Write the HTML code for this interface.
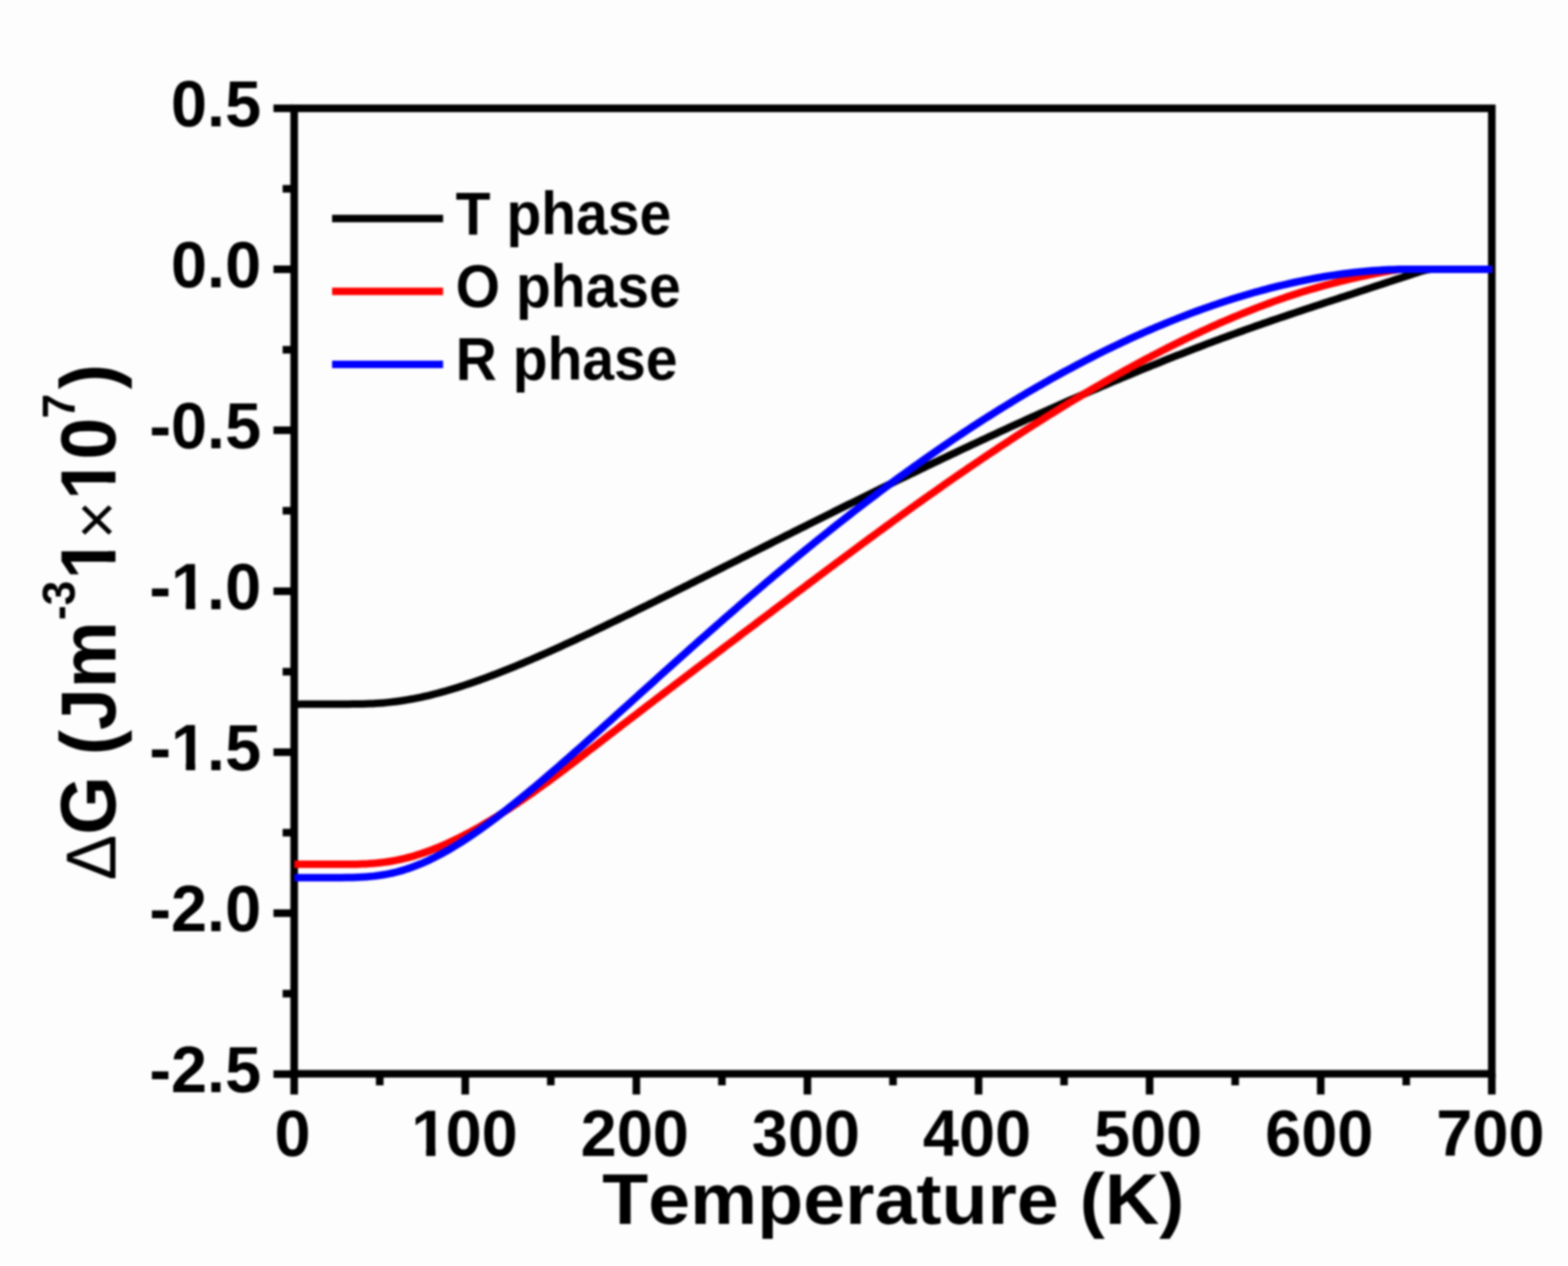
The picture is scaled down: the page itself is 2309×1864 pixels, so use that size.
<!DOCTYPE html>
<html><head><meta charset="utf-8"><title>Gibbs free energy difference vs temperature</title>
<style>
html,body{margin:0;padding:0;background:#fdfdfd;}
body{width:2309px;height:1864px;overflow:hidden;}
svg{display:block;filter:blur(1.8px);}
text{font-family:"Liberation Sans",Arial,sans-serif;font-weight:bold;fill:#000;font-kerning:none;}
</style></head><body>
<svg width="2309" height="1864" viewBox="0 0 2309 1864">
<rect x="0" y="0" width="2309" height="1864" fill="#fdfdfd"/>
<g stroke="#000" stroke-width="11.2" stroke-linecap="butt">
<line x1="433.2" y1="1581.0" x2="433.2" y2="1611.5"/><line x1="685.1" y1="1581.0" x2="685.1" y2="1611.5"/><line x1="937.1" y1="1581.0" x2="937.1" y2="1611.5"/><line x1="1189.0" y1="1581.0" x2="1189.0" y2="1611.5"/><line x1="1441.0" y1="1581.0" x2="1441.0" y2="1611.5"/><line x1="1692.9" y1="1581.0" x2="1692.9" y2="1611.5"/><line x1="1944.9" y1="1581.0" x2="1944.9" y2="1611.5"/><line x1="2196.8" y1="1581.0" x2="2196.8" y2="1611.5"/><line x1="559.2" y1="1581.0" x2="559.2" y2="1598.0"/><line x1="811.1" y1="1581.0" x2="811.1" y2="1598.0"/><line x1="1063.1" y1="1581.0" x2="1063.1" y2="1598.0"/><line x1="1315.0" y1="1581.0" x2="1315.0" y2="1598.0"/><line x1="1566.9" y1="1581.0" x2="1566.9" y2="1598.0"/><line x1="1818.9" y1="1581.0" x2="1818.9" y2="1598.0"/><line x1="2070.8" y1="1581.0" x2="2070.8" y2="1598.0"/><line x1="402.7" y1="159.5" x2="433.2" y2="159.5"/><line x1="402.7" y1="396.5" x2="433.2" y2="396.5"/><line x1="402.7" y1="633.5" x2="433.2" y2="633.5"/><line x1="402.7" y1="870.5" x2="433.2" y2="870.5"/><line x1="402.7" y1="1107.5" x2="433.2" y2="1107.5"/><line x1="402.7" y1="1344.5" x2="433.2" y2="1344.5"/><line x1="402.7" y1="1581.5" x2="433.2" y2="1581.5"/><line x1="416.2" y1="278.0" x2="433.2" y2="278.0"/><line x1="416.2" y1="515.0" x2="433.2" y2="515.0"/><line x1="416.2" y1="752.0" x2="433.2" y2="752.0"/><line x1="416.2" y1="989.0" x2="433.2" y2="989.0"/><line x1="416.2" y1="1226.0" x2="433.2" y2="1226.0"/><line x1="416.2" y1="1463.0" x2="433.2" y2="1463.0"/>
</g>
<rect x="433.2" y="159.5" width="1763.6000000000001" height="1421.5" fill="none" stroke="#000" stroke-width="11.2" stroke-linejoin="miter"/>
<g fill="none" stroke-linejoin="round" stroke-linecap="butt" stroke-width="11">
<path d="M433.5,1036.9 L438.5,1036.9 L443.6,1036.8 L448.6,1036.8 L453.7,1036.7 L458.7,1036.7 L463.7,1036.7 L468.8,1036.7 L473.8,1036.7 L478.9,1036.7 L483.9,1036.7 L488.9,1036.7 L494.0,1036.7 L499.0,1036.7 L504.1,1036.7 L509.1,1036.7 L514.1,1036.7 L519.2,1036.6 L524.2,1036.6 L529.3,1036.5 L534.3,1036.4 L539.3,1036.3 L544.4,1036.1 L549.4,1035.9 L554.5,1035.6 L559.5,1035.3 L564.5,1034.9 L569.6,1034.4 L574.6,1033.9 L579.7,1033.3 L584.7,1032.7 L589.7,1032.0 L594.8,1031.2 L599.8,1030.4 L604.9,1029.5 L609.9,1028.6 L614.9,1027.6 L620.0,1026.6 L625.0,1025.4 L630.1,1024.3 L635.1,1023.1 L640.1,1021.8 L645.2,1020.5 L650.2,1019.1 L655.3,1017.7 L660.3,1016.3 L665.3,1014.8 L670.4,1013.3 L675.4,1011.7 L680.5,1010.1 L685.5,1008.4 L690.5,1006.7 L695.6,1005.0 L700.6,1003.3 L705.7,1001.5 L710.7,999.7 L715.7,997.8 L720.8,995.9 L725.8,994.0 L730.9,992.1 L735.9,990.1 L740.9,988.1 L746.0,986.1 L751.0,984.1 L756.1,982.1 L761.1,980.0 L766.1,977.9 L771.2,975.8 L776.2,973.6 L781.3,971.5 L786.3,969.3 L791.3,967.1 L796.4,964.9 L801.4,962.7 L806.5,960.5 L811.5,958.2 L816.5,956.0 L821.6,953.7 L826.6,951.4 L831.7,949.1 L836.7,946.8 L841.7,944.5 L846.8,942.2 L851.8,939.8 L856.9,937.5 L861.9,935.1 L866.9,932.7 L872.0,930.4 L877.0,928.0 L882.1,925.6 L887.1,923.2 L892.1,920.8 L897.2,918.3 L902.2,915.9 L907.3,913.5 L912.3,911.0 L917.3,908.6 L922.4,906.1 L927.4,903.7 L932.5,901.2 L937.5,898.7 L942.5,896.3 L947.6,893.8 L952.6,891.3 L957.7,888.8 L962.7,886.3 L967.7,883.8 L972.8,881.3 L977.8,878.8 L982.9,876.3 L987.9,873.8 L992.9,871.3 L998.0,868.8 L1003.0,866.3 L1008.1,863.8 L1013.1,861.3 L1018.1,858.7 L1023.2,856.2 L1028.2,853.7 L1033.3,851.2 L1038.3,848.6 L1043.3,846.1 L1048.4,843.6 L1053.4,841.0 L1058.5,838.5 L1063.5,836.0 L1068.5,833.4 L1073.6,830.9 L1078.6,828.4 L1083.7,825.8 L1088.7,823.3 L1093.7,820.7 L1098.8,818.2 L1103.8,815.7 L1108.9,813.1 L1113.9,810.6 L1118.9,808.1 L1124.0,805.5 L1129.0,803.0 L1134.1,800.5 L1139.1,797.9 L1144.1,795.4 L1149.2,792.9 L1154.2,790.3 L1159.3,787.8 L1164.3,785.3 L1169.3,782.7 L1174.4,780.2 L1179.4,777.7 L1184.5,775.2 L1189.5,772.7 L1194.5,770.1 L1199.6,767.6 L1204.6,765.1 L1209.7,762.6 L1214.7,760.1 L1219.7,757.6 L1224.8,755.1 L1229.8,752.5 L1234.9,750.0 L1239.9,747.5 L1244.9,745.0 L1250.0,742.5 L1255.0,740.1 L1260.1,737.6 L1265.1,735.1 L1270.1,732.6 L1275.2,730.1 L1280.2,727.6 L1285.3,725.1 L1290.3,722.7 L1295.3,720.2 L1300.4,717.7 L1305.4,715.3 L1310.5,712.8 L1315.5,710.3 L1320.5,707.9 L1325.6,705.4 L1330.6,703.0 L1335.7,700.5 L1340.7,698.1 L1345.7,695.7 L1350.8,693.2 L1355.8,690.8 L1360.9,688.4 L1365.9,685.9 L1370.9,683.5 L1376.0,681.1 L1381.0,678.7 L1386.1,676.3 L1391.1,673.9 L1396.1,671.5 L1401.2,669.1 L1406.2,666.7 L1411.3,664.3 L1416.3,661.9 L1421.3,659.6 L1426.4,657.2 L1431.4,654.8 L1436.5,652.5 L1441.5,650.1 L1446.5,647.7 L1451.6,645.4 L1456.6,643.1 L1461.7,640.7 L1466.7,638.4 L1471.7,636.0 L1476.8,633.7 L1481.8,631.4 L1486.9,629.1 L1491.9,626.8 L1496.9,624.5 L1502.0,622.2 L1507.0,619.9 L1512.1,617.6 L1517.1,615.3 L1522.1,613.0 L1527.2,610.8 L1532.2,608.5 L1537.3,606.2 L1542.3,604.0 L1547.3,601.7 L1552.4,599.5 L1557.4,597.3 L1562.5,595.0 L1567.5,592.8 L1572.5,590.6 L1577.6,588.4 L1582.6,586.2 L1587.7,584.0 L1592.7,581.8 L1597.7,579.6 L1602.8,577.4 L1607.8,575.2 L1612.9,573.1 L1617.9,570.9 L1622.9,568.8 L1628.0,566.6 L1633.0,564.5 L1638.1,562.3 L1643.1,560.2 L1648.1,558.1 L1653.2,556.0 L1658.2,553.9 L1663.3,551.8 L1668.3,549.7 L1673.3,547.6 L1678.4,545.5 L1683.4,543.5 L1688.5,541.4 L1693.5,539.4 L1698.5,537.3 L1703.6,535.3 L1708.6,533.3 L1713.7,531.2 L1718.7,529.2 L1723.7,527.2 L1728.8,525.2 L1733.8,523.2 L1738.9,521.3 L1743.9,519.3 L1748.9,517.3 L1754.0,515.4 L1759.0,513.4 L1764.1,511.5 L1769.1,509.6 L1774.1,507.6 L1779.2,505.7 L1784.2,503.8 L1789.3,501.9 L1794.3,500.1 L1799.3,498.2 L1804.4,496.3 L1809.4,494.5 L1814.5,492.6 L1819.5,490.8 L1824.5,489.0 L1829.6,487.2 L1834.6,485.4 L1839.7,483.6 L1844.7,481.8 L1849.7,480.0 L1854.8,478.3 L1859.8,476.5 L1864.9,474.8 L1869.9,473.0 L1874.9,471.3 L1880.0,469.6 L1885.0,467.9 L1890.1,466.2 L1895.1,464.5 L1900.1,462.8 L1905.2,461.1 L1910.2,459.4 L1915.3,457.7 L1920.3,456.1 L1925.3,454.4 L1930.4,452.7 L1935.4,451.1 L1940.5,449.4 L1945.5,447.7 L1950.5,446.1 L1955.6,444.4 L1960.6,442.8 L1965.7,441.1 L1970.7,439.5 L1975.7,437.8 L1980.8,436.2 L1985.8,434.5 L1990.9,432.9 L1995.9,431.2 L2000.9,429.6 L2006.0,427.9 L2011.0,426.3 L2016.1,424.6 L2021.1,422.9 L2026.1,421.3 L2031.2,419.6 L2036.2,418.0 L2041.3,416.3 L2046.3,414.6 L2051.3,413.0 L2056.4,411.3 L2061.4,409.7 L2066.5,408.0 L2071.5,406.4 L2076.5,404.7 L2081.6,403.0 L2086.6,401.4 L2091.7,399.8 L2096.7,398.4 L2101.7,397.2 L2106.8,396.5 L2111.8,396.5 L2116.9,396.5 L2121.9,396.5 L2126.9,396.5 L2132.0,396.5 L2137.0,396.5 L2142.1,396.5 L2147.1,396.5 L2152.1,396.5 L2157.2,396.5 L2162.2,396.5 L2167.3,396.5 L2172.3,396.5 L2177.3,396.5 L2182.4,396.5 L2187.4,396.5 L2192.5,396.5 L2197.5,396.5" stroke="#000"/>
<path d="M433.5,1272.6 L438.5,1272.6 L443.6,1272.6 L448.6,1272.6 L453.7,1272.6 L458.7,1272.6 L463.7,1272.6 L468.8,1272.6 L473.8,1272.6 L478.9,1272.6 L483.9,1272.6 L488.9,1272.6 L494.0,1272.6 L499.0,1272.6 L504.1,1272.6 L509.1,1272.6 L514.1,1272.6 L519.2,1272.5 L524.2,1272.4 L529.3,1272.3 L534.3,1272.1 L539.3,1271.9 L544.4,1271.6 L549.4,1271.2 L554.5,1270.8 L559.5,1270.2 L564.5,1269.6 L569.6,1269.0 L574.6,1268.2 L579.7,1267.3 L584.7,1266.4 L589.7,1265.3 L594.8,1264.2 L599.8,1262.9 L604.9,1261.6 L609.9,1260.2 L614.9,1258.6 L620.0,1257.0 L625.0,1255.3 L630.1,1253.5 L635.1,1251.7 L640.1,1249.7 L645.2,1247.7 L650.2,1245.5 L655.3,1243.4 L660.3,1241.1 L665.3,1238.7 L670.4,1236.3 L675.4,1233.9 L680.5,1231.3 L685.5,1228.7 L690.5,1226.0 L695.6,1223.3 L700.6,1220.5 L705.7,1217.7 L710.7,1214.8 L715.7,1211.8 L720.8,1208.8 L725.8,1205.7 L730.9,1202.6 L735.9,1199.5 L740.9,1196.3 L746.0,1193.1 L751.0,1189.8 L756.1,1186.5 L761.1,1183.1 L766.1,1179.7 L771.2,1176.3 L776.2,1172.8 L781.3,1169.3 L786.3,1165.7 L791.3,1162.1 L796.4,1158.5 L801.4,1154.9 L806.5,1151.2 L811.5,1147.5 L816.5,1143.8 L821.6,1140.0 L826.6,1136.3 L831.7,1132.5 L836.7,1128.7 L841.7,1124.8 L846.8,1121.0 L851.8,1117.1 L856.9,1113.3 L861.9,1109.4 L866.9,1105.5 L872.0,1101.6 L877.0,1097.8 L882.1,1093.9 L887.1,1090.0 L892.1,1086.1 L897.2,1082.2 L902.2,1078.4 L907.3,1074.5 L912.3,1070.6 L917.3,1066.7 L922.4,1062.9 L927.4,1059.0 L932.5,1055.1 L937.5,1051.3 L942.5,1047.4 L947.6,1043.6 L952.6,1039.7 L957.7,1035.9 L962.7,1032.0 L967.7,1028.2 L972.8,1024.3 L977.8,1020.5 L982.9,1016.6 L987.9,1012.8 L992.9,1009.0 L998.0,1005.1 L1003.0,1001.3 L1008.1,997.5 L1013.1,993.7 L1018.1,989.8 L1023.2,986.0 L1028.2,982.2 L1033.3,978.4 L1038.3,974.6 L1043.3,970.8 L1048.4,967.0 L1053.4,963.1 L1058.5,959.3 L1063.5,955.5 L1068.5,951.7 L1073.6,947.9 L1078.6,944.1 L1083.7,940.3 L1088.7,936.5 L1093.7,932.7 L1098.8,928.9 L1103.8,925.1 L1108.9,921.3 L1113.9,917.5 L1118.9,913.7 L1124.0,909.9 L1129.0,906.1 L1134.1,902.3 L1139.1,898.5 L1144.1,894.7 L1149.2,890.9 L1154.2,887.1 L1159.3,883.3 L1164.3,879.5 L1169.3,875.7 L1174.4,871.9 L1179.4,868.1 L1184.5,864.3 L1189.5,860.5 L1194.5,856.7 L1199.6,853.0 L1204.6,849.2 L1209.7,845.4 L1214.7,841.6 L1219.7,837.9 L1224.8,834.1 L1229.8,830.3 L1234.9,826.6 L1239.9,822.8 L1244.9,819.1 L1250.0,815.3 L1255.0,811.6 L1260.1,807.9 L1265.1,804.1 L1270.1,800.4 L1275.2,796.7 L1280.2,793.0 L1285.3,789.3 L1290.3,785.6 L1295.3,781.9 L1300.4,778.2 L1305.4,774.5 L1310.5,770.9 L1315.5,767.2 L1320.5,763.6 L1325.6,759.9 L1330.6,756.3 L1335.7,752.6 L1340.7,749.0 L1345.7,745.4 L1350.8,741.8 L1355.8,738.2 L1360.9,734.6 L1365.9,731.1 L1370.9,727.5 L1376.0,723.9 L1381.0,720.4 L1386.1,716.9 L1391.1,713.3 L1396.1,709.8 L1401.2,706.3 L1406.2,702.8 L1411.3,699.3 L1416.3,695.9 L1421.3,692.4 L1426.4,688.9 L1431.4,685.5 L1436.5,682.1 L1441.5,678.7 L1446.5,675.3 L1451.6,671.9 L1456.6,668.5 L1461.7,665.1 L1466.7,661.8 L1471.7,658.4 L1476.8,655.1 L1481.8,651.8 L1486.9,648.5 L1491.9,645.2 L1496.9,641.9 L1502.0,638.6 L1507.0,635.4 L1512.1,632.1 L1517.1,628.9 L1522.1,625.7 L1527.2,622.5 L1532.2,619.3 L1537.3,616.1 L1542.3,612.9 L1547.3,609.8 L1552.4,606.7 L1557.4,603.6 L1562.5,600.5 L1567.5,597.4 L1572.5,594.3 L1577.6,591.3 L1582.6,588.2 L1587.7,585.2 L1592.7,582.2 L1597.7,579.2 L1602.8,576.2 L1607.8,573.3 L1612.9,570.3 L1617.9,567.4 L1622.9,564.5 L1628.0,561.6 L1633.0,558.7 L1638.1,555.8 L1643.1,553.0 L1648.1,550.2 L1653.2,547.4 L1658.2,544.6 L1663.3,541.8 L1668.3,539.0 L1673.3,536.3 L1678.4,533.6 L1683.4,530.9 L1688.5,528.2 L1693.5,525.6 L1698.5,522.9 L1703.6,520.3 L1708.6,517.7 L1713.7,515.1 L1718.7,512.5 L1723.7,510.0 L1728.8,507.5 L1733.8,505.0 L1738.9,502.5 L1743.9,500.0 L1748.9,497.6 L1754.0,495.2 L1759.0,492.8 L1764.1,490.4 L1769.1,488.1 L1774.1,485.7 L1779.2,483.4 L1784.2,481.1 L1789.3,478.9 L1794.3,476.6 L1799.3,474.4 L1804.4,472.2 L1809.4,470.1 L1814.5,467.9 L1819.5,465.8 L1824.5,463.7 L1829.6,461.6 L1834.6,459.6 L1839.7,457.6 L1844.7,455.6 L1849.7,453.6 L1854.8,451.7 L1859.8,449.8 L1864.9,447.9 L1869.9,446.0 L1874.9,444.2 L1880.0,442.4 L1885.0,440.6 L1890.1,438.9 L1895.1,437.1 L1900.1,435.5 L1905.2,433.8 L1910.2,432.2 L1915.3,430.6 L1920.3,429.0 L1925.3,427.5 L1930.4,426.0 L1935.4,424.6 L1940.5,423.1 L1945.5,421.7 L1950.5,420.3 L1955.6,419.0 L1960.6,417.7 L1965.7,416.4 L1970.7,415.1 L1975.7,413.8 L1980.8,412.6 L1985.8,411.4 L1990.9,410.2 L1995.9,409.1 L2000.9,407.9 L2006.0,406.8 L2011.0,405.8 L2016.1,404.7 L2021.1,403.7 L2026.1,402.6 L2031.2,401.7 L2036.2,400.7 L2041.3,399.8 L2046.3,398.9 L2051.3,398.1 L2056.4,397.3 L2061.4,396.6 L2066.5,396.5 L2071.5,396.5 L2076.5,396.5 L2081.6,396.5 L2086.6,396.5 L2091.7,396.5 L2096.7,396.5 L2101.7,396.5 L2106.8,396.5 L2111.8,396.5 L2116.9,396.5 L2121.9,396.5 L2126.9,396.5 L2132.0,396.5 L2137.0,396.5 L2142.1,396.5 L2147.1,396.5 L2152.1,396.5 L2157.2,396.5 L2162.2,396.5 L2167.3,396.5 L2172.3,396.5 L2177.3,396.5 L2182.4,396.5 L2187.4,396.5 L2192.5,396.5 L2197.5,396.5" stroke="#f00"/>
<path d="M433.5,1292.2 L438.5,1292.2 L443.6,1292.2 L448.6,1292.2 L453.7,1292.2 L458.7,1292.2 L463.7,1292.2 L468.8,1292.2 L473.8,1292.2 L478.9,1292.2 L483.9,1292.2 L488.9,1292.2 L494.0,1292.2 L499.0,1292.2 L504.1,1292.2 L509.1,1292.1 L514.1,1292.0 L519.2,1291.9 L524.2,1291.8 L529.3,1291.6 L534.3,1291.3 L539.3,1291.0 L544.4,1290.6 L549.4,1290.1 L554.5,1289.5 L559.5,1288.8 L564.5,1288.0 L569.6,1287.1 L574.6,1286.1 L579.7,1285.0 L584.7,1283.7 L589.7,1282.4 L594.8,1280.9 L599.8,1279.2 L604.9,1277.5 L609.9,1275.7 L614.9,1273.7 L620.0,1271.7 L625.0,1269.5 L630.1,1267.2 L635.1,1264.8 L640.1,1262.3 L645.2,1259.7 L650.2,1257.1 L655.3,1254.3 L660.3,1251.4 L665.3,1248.5 L670.4,1245.4 L675.4,1242.3 L680.5,1239.2 L685.5,1235.9 L690.5,1232.6 L695.6,1229.2 L700.6,1225.7 L705.7,1222.2 L710.7,1218.6 L715.7,1215.0 L720.8,1211.3 L725.8,1207.6 L730.9,1203.8 L735.9,1199.9 L740.9,1196.0 L746.0,1192.1 L751.0,1188.1 L756.1,1184.1 L761.1,1180.1 L766.1,1176.0 L771.2,1171.9 L776.2,1167.8 L781.3,1163.6 L786.3,1159.4 L791.3,1155.2 L796.4,1150.9 L801.4,1146.6 L806.5,1142.3 L811.5,1138.0 L816.5,1133.7 L821.6,1129.3 L826.6,1124.9 L831.7,1120.5 L836.7,1116.1 L841.7,1111.7 L846.8,1107.2 L851.8,1102.8 L856.9,1098.3 L861.9,1093.9 L866.9,1089.4 L872.0,1084.9 L877.0,1080.4 L882.1,1075.9 L887.1,1071.4 L892.1,1066.8 L897.2,1062.3 L902.2,1057.8 L907.3,1053.2 L912.3,1048.7 L917.3,1044.2 L922.4,1039.6 L927.4,1035.1 L932.5,1030.5 L937.5,1026.0 L942.5,1021.4 L947.6,1016.9 L952.6,1012.4 L957.7,1007.8 L962.7,1003.3 L967.7,998.7 L972.8,994.2 L977.8,989.7 L982.9,985.2 L987.9,980.6 L992.9,976.1 L998.0,971.6 L1003.0,967.1 L1008.1,962.6 L1013.1,958.1 L1018.1,953.6 L1023.2,949.2 L1028.2,944.7 L1033.3,940.2 L1038.3,935.8 L1043.3,931.3 L1048.4,926.9 L1053.4,922.5 L1058.5,918.0 L1063.5,913.6 L1068.5,909.2 L1073.6,904.8 L1078.6,900.5 L1083.7,896.1 L1088.7,891.7 L1093.7,887.4 L1098.8,883.0 L1103.8,878.7 L1108.9,874.4 L1113.9,870.1 L1118.9,865.8 L1124.0,861.5 L1129.0,857.2 L1134.1,853.0 L1139.1,848.7 L1144.1,844.5 L1149.2,840.3 L1154.2,836.1 L1159.3,831.9 L1164.3,827.7 L1169.3,823.5 L1174.4,819.4 L1179.4,815.2 L1184.5,811.1 L1189.5,807.0 L1194.5,802.9 L1199.6,798.8 L1204.6,794.8 L1209.7,790.7 L1214.7,786.7 L1219.7,782.7 L1224.8,778.6 L1229.8,774.7 L1234.9,770.7 L1239.9,766.7 L1244.9,762.8 L1250.0,758.8 L1255.0,754.9 L1260.1,751.0 L1265.1,747.1 L1270.1,743.3 L1275.2,739.4 L1280.2,735.6 L1285.3,731.8 L1290.3,728.0 L1295.3,724.2 L1300.4,720.4 L1305.4,716.7 L1310.5,712.9 L1315.5,709.2 L1320.5,705.5 L1325.6,701.8 L1330.6,698.2 L1335.7,694.5 L1340.7,690.9 L1345.7,687.3 L1350.8,683.7 L1355.8,680.1 L1360.9,676.5 L1365.9,673.0 L1370.9,669.5 L1376.0,666.0 L1381.0,662.5 L1386.1,659.0 L1391.1,655.6 L1396.1,652.2 L1401.2,648.7 L1406.2,645.3 L1411.3,642.0 L1416.3,638.6 L1421.3,635.3 L1426.4,632.0 L1431.4,628.7 L1436.5,625.4 L1441.5,622.1 L1446.5,618.9 L1451.6,615.7 L1456.6,612.5 L1461.7,609.3 L1466.7,606.1 L1471.7,603.0 L1476.8,599.9 L1481.8,596.8 L1486.9,593.7 L1491.9,590.6 L1496.9,587.6 L1502.0,584.6 L1507.0,581.6 L1512.1,578.6 L1517.1,575.6 L1522.1,572.7 L1527.2,569.8 L1532.2,566.9 L1537.3,564.0 L1542.3,561.2 L1547.3,558.3 L1552.4,555.5 L1557.4,552.7 L1562.5,549.9 L1567.5,547.2 L1572.5,544.5 L1577.6,541.8 L1582.6,539.1 L1587.7,536.4 L1592.7,533.8 L1597.7,531.2 L1602.8,528.6 L1607.8,526.0 L1612.9,523.4 L1617.9,520.9 L1622.9,518.4 L1628.0,515.9 L1633.0,513.4 L1638.1,511.0 L1643.1,508.6 L1648.1,506.2 L1653.2,503.8 L1658.2,501.5 L1663.3,499.1 L1668.3,496.8 L1673.3,494.5 L1678.4,492.3 L1683.4,490.0 L1688.5,487.8 L1693.5,485.6 L1698.5,483.5 L1703.6,481.3 L1708.6,479.2 L1713.7,477.1 L1718.7,475.0 L1723.7,473.0 L1728.8,471.0 L1733.8,469.0 L1738.9,467.0 L1743.9,465.1 L1748.9,463.1 L1754.0,461.2 L1759.0,459.3 L1764.1,457.5 L1769.1,455.7 L1774.1,453.9 L1779.2,452.1 L1784.2,450.3 L1789.3,448.6 L1794.3,446.9 L1799.3,445.2 L1804.4,443.6 L1809.4,441.9 L1814.5,440.3 L1819.5,438.8 L1824.5,437.2 L1829.6,435.7 L1834.6,434.2 L1839.7,432.7 L1844.7,431.3 L1849.7,429.8 L1854.8,428.5 L1859.8,427.1 L1864.9,425.8 L1869.9,424.4 L1874.9,423.2 L1880.0,421.9 L1885.0,420.7 L1890.1,419.5 L1895.1,418.3 L1900.1,417.1 L1905.2,416.0 L1910.2,414.9 L1915.3,413.9 L1920.3,412.8 L1925.3,411.8 L1930.4,410.9 L1935.4,409.9 L1940.5,409.0 L1945.5,408.1 L1950.5,407.2 L1955.6,406.4 L1960.6,405.6 L1965.7,404.9 L1970.7,404.1 L1975.7,403.4 L1980.8,402.7 L1985.8,402.1 L1990.9,401.5 L1995.9,400.9 L2000.9,400.4 L2006.0,399.9 L2011.0,399.4 L2016.1,399.0 L2021.1,398.6 L2026.1,398.2 L2031.2,397.9 L2036.2,397.6 L2041.3,397.3 L2046.3,397.1 L2051.3,396.9 L2056.4,396.8 L2061.4,396.6 L2066.5,396.5 L2071.5,396.5 L2076.5,396.5 L2081.6,396.5 L2086.6,396.5 L2091.7,396.5 L2096.7,396.5 L2101.7,396.5 L2106.8,396.5 L2111.8,396.5 L2116.9,396.5 L2121.9,396.5 L2126.9,396.5 L2132.0,396.5 L2137.0,396.5 L2142.1,396.5 L2147.1,396.5 L2152.1,396.5 L2157.2,396.5 L2162.2,396.5 L2167.3,396.5 L2172.3,396.5 L2177.3,396.5 L2182.4,396.5 L2187.4,396.5 L2192.5,396.5 L2197.5,396.5" stroke="#00f"/>
</g>
<g font-size="95.5">
<text x="384.5" y="185.5" text-anchor="end">0.5</text><text x="384.5" y="422.5" text-anchor="end">0.0</text><text x="384.5" y="659.5" text-anchor="end">-0.5</text><text x="384.5" y="896.5" text-anchor="end">-1.0</text><text x="384.5" y="1133.5" text-anchor="end">-1.5</text><text x="384.5" y="1370.5" text-anchor="end">-2.0</text><text x="384.5" y="1607.5" text-anchor="end">-2.5</text><text x="430.7" y="1702.4" text-anchor="middle">0</text><text x="603.03" y="1702.4"><tspan dx="2.5">1</tspan><tspan dx="-2.5">00</tspan></text><text x="934.7" y="1702.4" text-anchor="middle">200</text><text x="1186.7" y="1702.4" text-anchor="middle">300</text><text x="1438.7" y="1702.4" text-anchor="middle">400</text><text x="1690.7" y="1702.4" text-anchor="middle">500</text><text x="1942.7" y="1702.4" text-anchor="middle">600</text><text x="2194.7" y="1702.4" text-anchor="middle">700</text>
</g>
<text x="886.8" y="0" font-size="111" transform="translate(0,1801.5) scale(1,0.955)">Temperature (K)</text>
<g transform="translate(170,1300) rotate(-90) scale(1,1.04)">
<text font-size="111"><tspan x="3.9" y="0" font-size="100" style="font-weight:normal">&#916;</tspan><tspan x="71" y="0">G (Jm</tspan><tspan x="387" y="-58" font-size="65">-3</tspan><tspan x="447.1" y="0">1</tspan><tspan x="506.1" y="5.6" font-size="97" style="font-weight:normal">&#215;</tspan><tspan x="563.9" y="0">1</tspan><tspan x="623.2" y="0">0</tspan><tspan x="684.1" y="-58" font-size="65">7</tspan><tspan x="726.9" y="0">)</tspan></text>
<g fill="#fdfdfd"><rect x="452.59" y="-13.83" width="20.12" height="15.33"/><rect x="488.54" y="-13.83" width="18.71" height="15.33"/><rect x="569.39" y="-13.83" width="20.12" height="15.33"/><rect x="605.34" y="-13.83" width="18.71" height="15.33"/></g>
</g>
<g fill="#fdfdfd"><rect x="610.05" y="1690.15" width="17.47" height="13.75"/><rect x="641.22" y="1690.15" width="16.26" height="13.75"/><rect x="256.26" y="884.25" width="17.47" height="13.75"/><rect x="287.43" y="884.25" width="16.26" height="13.75"/><rect x="256.26" y="1121.25" width="17.47" height="13.75"/><rect x="287.43" y="1121.25" width="16.26" height="13.75"/></g>
<g stroke-width="11">
<line x1="489" y1="321.8" x2="652.5" y2="321.8" stroke="#000"/>
<line x1="489" y1="429.1" x2="652.5" y2="429.1" stroke="#f00"/>
<line x1="489" y1="536.4" x2="652.5" y2="536.4" stroke="#00f"/>
</g>
<g font-size="84">
<text x="671" y="0" transform="translate(0,344.6) scale(1,1.06)">T phase</text>
<text x="671" y="0" transform="translate(0,451.9) scale(1,1.06)">O phase</text>
<text x="671" y="0" transform="translate(0,559.2) scale(1,1.06)">R phase</text>
</g>
</svg>
</body></html>
